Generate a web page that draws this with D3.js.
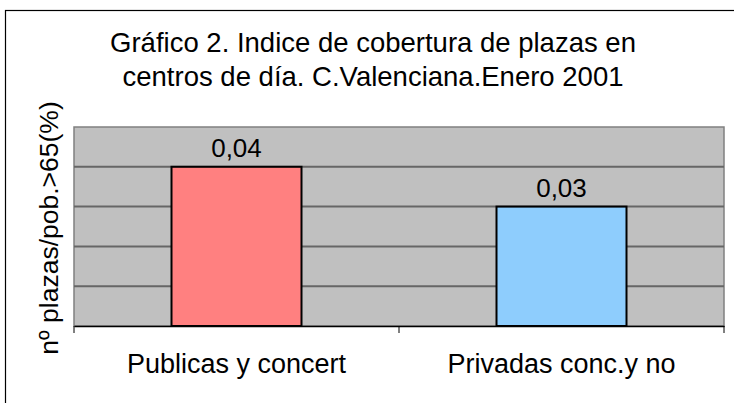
<!DOCTYPE html>
<html><head><meta charset="utf-8">
<script src="https://cdn.jsdelivr.net/npm/d3@7"></script>
<style>body{margin:0;background:#fff}svg{display:block}text{font-family:"Liberation Sans",Arial,sans-serif}</style>
</head><body>
<script>
const categories = ["Publicas y concert", "Privadas conc.y no"];
const values = [0.04, 0.03];
const valueLabels = ["0,04", "0,03"];
const colors = ["#FF8080", "#8ECDFD"];
const yTicks = [0, 0.01, 0.02, 0.03, 0.04, 0.05];
const titleLines = ["Gráfico 2. Indice de cobertura de plazas en", "centros de día. C.Valenciana.Enero 2001"];
const yTitle = "nº plazas/pob.>65(%)";

const W = 734, H = 403;
const svg = d3.select("body").append("svg").attr("width", W).attr("height", H);
svg.append("rect").attr("x", 5.5).attr("y", 10.5).attr("width", 740).attr("height", 400)
  .attr("fill", "#fff").attr("stroke", "#000").attr("stroke-width", 1.2);

const m = {l: 74, r: 724, t: 127, b: 326};
const x = d3.scaleBand().domain(categories).range([m.l, m.r]).paddingInner(0).paddingOuter(0);
const y = d3.scaleLinear().domain([0, 0.05]).range([m.b, m.t]);

svg.append("rect").attr("x", m.l).attr("y", m.t).attr("width", m.r - m.l).attr("height", m.b - m.t)
  .attr("fill", "#C0C0C0").attr("stroke", "#808080").attr("stroke-width", 1.5);

svg.append("g").selectAll("line").data(yTicks.slice(1, -1)).join("line")
  .attr("x1", m.l).attr("x2", m.r).attr("y1", d => y(d)).attr("y2", d => y(d))
  .attr("stroke", "#666").attr("stroke-width", 2);

const bw = x.bandwidth() * 0.4;
svg.append("g").selectAll("rect").data(values).join("rect")
  .attr("x", (d, i) => x(categories[i]) + x.bandwidth() / 2 - bw / 2)
  .attr("y", d => y(d)).attr("width", bw).attr("height", d => y(0) - y(d))
  .attr("fill", (d, i) => colors[i]).attr("stroke", "#000").attr("stroke-width", 2);

svg.append("g").selectAll("text").data(values).join("text")
  .attr("x", (d, i) => x(categories[i]) + x.bandwidth() / 2)
  .attr("y", d => y(d) - 10).attr("text-anchor", "middle").attr("font-size", 26)
  .text((d, i) => valueLabels[i]);

const xAxis = d3.axisBottom(x).tickSize(0).tickFormat(d => d);
const gx = svg.append("g").attr("transform", `translate(0,${m.b})`).call(xAxis);
gx.select(".domain").attr("stroke", "#000").attr("stroke-width", 1.5);
gx.selectAll(".tick text").attr("font-size", 27).attr("fill", "#000").attr("dy", 0).attr("y", 47)
  .style("font-family", '"Liberation Sans",Arial,sans-serif');
const sep = [m.l, m.l + x.bandwidth(), m.r];
svg.append("g").selectAll("line").data(sep).join("line")
  .attr("x1", d => d).attr("x2", d => d).attr("y1", m.b).attr("y2", m.b + 7)
  .attr("stroke", "#000").attr("stroke-width", 1);

svg.append("g").selectAll("text").data(titleLines).join("text")
  .attr("x", 373).attr("y", (d, i) => 52 + i * 34).attr("text-anchor", "middle")
  .attr("font-size", 27.5).text(d => d);

svg.append("text").attr("transform", `translate(58,228) rotate(-90)`)
  .attr("text-anchor", "middle").attr("font-size", 26.5).text(yTitle);
</script>
</body></html>
